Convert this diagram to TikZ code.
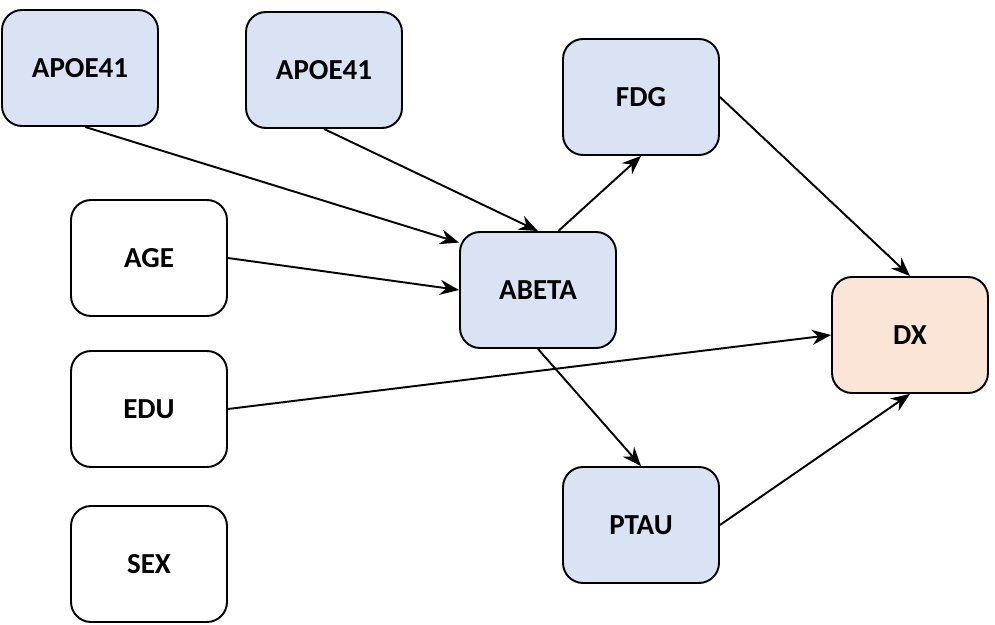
\documentclass[tikz,border=0pt]{standalone}
\usepackage{fontspec}
\setmainfont{Carlito}
\usetikzlibrary{arrows.meta, positioning}
\definecolor{varblue}{HTML}{DAE3F3}
\definecolor{varpeach}{HTML}{FBE5D6}

\begin{document}
\begin{tikzpicture}[x=0.02cm, y=-0.02cm, every node/.style={font=\fontsize{16.5}{20}\selectfont\bfseries}]
\tikzstyle{var} = [rectangle, rounded corners=0.4cm, draw=black, line width=1.1pt, minimum width=3.12cm, minimum height=2.32cm, inner sep=0pt]
\tikzstyle{gene} = [var, fill=varblue]
\tikzstyle{plain} = [var, fill=white]
\tikzstyle{outcome} = [var, fill=varpeach]
\tikzstyle{arrow} = [-{Stealth[length=3.8mm, width=3mm]}, line width=1.1pt]

\useasboundingbox (0,0) rectangle (995,625);

% Nodes
\node[gene] (apoeA) at (80,68) {APOE41};
\node[gene] (apoeB) at (324,70) {APOE41};
\node[gene] (fdg) at (641,97) {FDG};
\node[plain] (age) at (149,258) {AGE};
\node[gene] (abeta) at (538,290) {ABETA};
\node[outcome] (dx) at (910,335) {DX};
\node[plain] (edu) at (149,409) {EDU};
\node[plain] (sex) at (149,564) {SEX};
\node[gene] (ptau) at (641,525) {PTAU};

% Arrows
\draw[arrow] (apoeA.-85) -- (abeta.149);
\draw[arrow] (apoeB.south) -- (abeta.north);
\draw[arrow] (age.east) -- (abeta.west);
\draw[arrow] (abeta.71) -- (fdg.south);
\draw[arrow] (abeta.south) -- (ptau.north);
\draw[arrow] (fdg.east) -- (dx.north);
\draw[arrow] (edu.east) -- (dx.west);
\draw[arrow] (ptau.east) -- (dx.south);

\end{tikzpicture}
\end{document}
